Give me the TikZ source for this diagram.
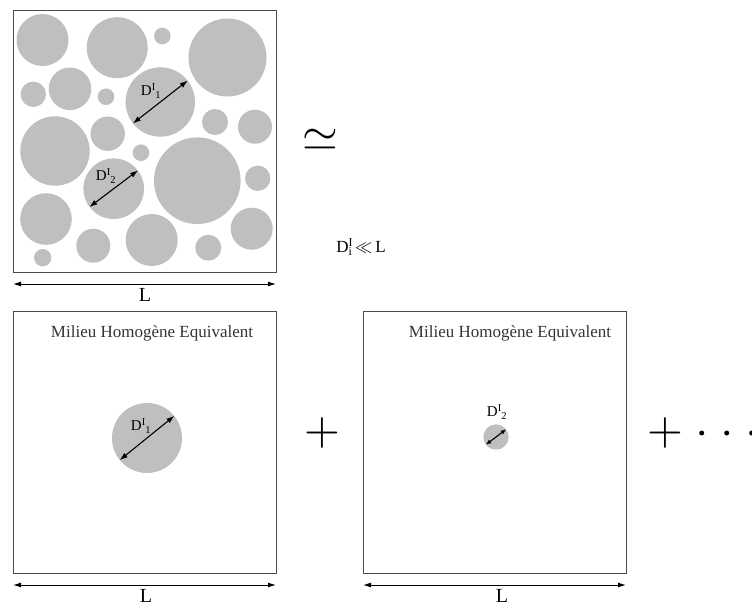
\documentclass[tikz,border=0pt]{standalone}
\usepackage{fontspec}
\setmainfont{Liberation Serif}
\usepackage{graphicx}
\usetikzlibrary{arrows.meta}
\newcommand{\DI}[1]{D\textsuperscript{I}\kern-0.5pt\textsubscript{#1}}
\begin{document}
\begin{tikzpicture}[x=1pt,y=-1pt,
  box/.style={draw=black!70, line width=1.3pt, minimum width=263pt, minimum height=262pt, anchor=north west, inner sep=0pt},
  grain/.style={circle, fill=black!25, inner sep=0pt},
  dim/.style={{Latex[length=8pt,width=5pt]}-{Latex[length=8pt,width=5pt]}, line width=1pt},
  diam/.style={{Latex[length=8pt,width=5.5pt]}-{Latex[length=8pt,width=5.5pt]}, line width=1.1pt},
  lbl/.style={font=\fontsize{15}{15}\selectfont, inner sep=0pt},
  Llbl/.style={font=\fontsize{20}{20}\selectfont, inner sep=0pt},
  title/.style={font=\fontsize{17}{17}\selectfont, text=black!80, inner sep=0pt},
  dot/.style={circle, fill=black, inner sep=0pt, minimum size=5pt}]
\useasboundingbox (0,0) rectangle (752,606);

% ---------- top box with grains ----------
\node[box] (B0) at (13,10) {};
\foreach \n/\x/\y/\r in {
  c1/42.5/40/26, c2/117.2/47.7/30.5, c3/162.3/36/8.3, c4/227.5/57.5/39,
  c5/33.3/94.3/12.7, c6/70/88.8/21.3, c7/106/96.7/8.3, c8/160.3/102/34.7,
  c9/215/122/13, c10/255/126.7/17, c11/55/151/34.7, c12/107.7/133.7/17.2,
  c13/141/152.7/8.3, c14/113.7/188.7/30.3, c15/197.3/180.7/43.3, c16/257.7/178.3/12.7,
  c17/46/219/25.8, c18/93.3/245.7/17, c19/151.7/240/26, c20/208.3/247.7/13,
  c21/251.7/228.7/21, c22/42.7/257.7/8.7}
  \node[grain, minimum size=2*\r pt] (\n) at (\x,\y) {};

\draw[diam] (c8.218.7) -- (c8.38.7);
\node[lbl] (d1) at (151,91) {\DI{1}};
\draw[diam] (c14.217.7) -- (c14.37.7);
\node[lbl] (d2) at (106,176) {\DI{2}};

\coordinate (t1) at (13,284);
\coordinate (t2) at (276,284);
\draw[dim] (t1) -- (t2);
\node[Llbl] (L0) at (145,295) {L};

% ---------- approx and condition ----------
\node[inner sep=0pt] (sim) at (320,140) {\scalebox{4.6}{$\simeq$}};
\node[font=\fontsize{17}{17}\selectfont, inner sep=0pt] (cond) at (361,247) {D\rlap{\textsuperscript{I}}\textsubscript{i}\,$\ll$\,L};

% ---------- bottom left box ----------
\node[box] (B1) at (13,311) {};
\node[title] (t1txt) at (152,333) {Milieu Homogène Equivalent};
\node[grain, minimum size=70pt] (g1) at (147,438) {};
\draw[diam] (g1.219) -- (g1.39);
\node[lbl] (d3) at (141,426) {\DI{1}};
\coordinate (u1) at (13,585);
\coordinate (u2) at (276,585);
\draw[dim] (u1) -- (u2);
\node[Llbl] (L1) at (146,596) {L};

\node[inner sep=0pt] (plus1) at (322,433) {\scalebox{4.6}{$+$}};

% ---------- bottom right box ----------
\node[box] (B2) at (363,311) {};
\node[title] (t2txt) at (510,333) {Milieu Homogène Equivalent};
\node[grain, minimum size=25.4pt] (g2) at (496,437) {};
\draw[{Latex[length=5.5pt,width=4.5pt]}-{Latex[length=5.5pt,width=4.5pt]}, line width=1.1pt] (g2.217) -- (g2.37);
\node[lbl] (d4) at (497,412) {\DI{2}};
\coordinate (v1) at (363,585);
\coordinate (v2) at (626,585);
\draw[dim] (v1) -- (v2);
\node[Llbl] (L2) at (502,596) {L};

\node[inner sep=0pt] (plus2) at (665,433) {\scalebox{4.6}{$+$}};
\node[dot] (p1) at (701.7,433) {};
\node[dot] (p2) at (726.7,433) {};
\node[dot] (p3) at (751.7,433) {};
\end{tikzpicture}
\end{document}
